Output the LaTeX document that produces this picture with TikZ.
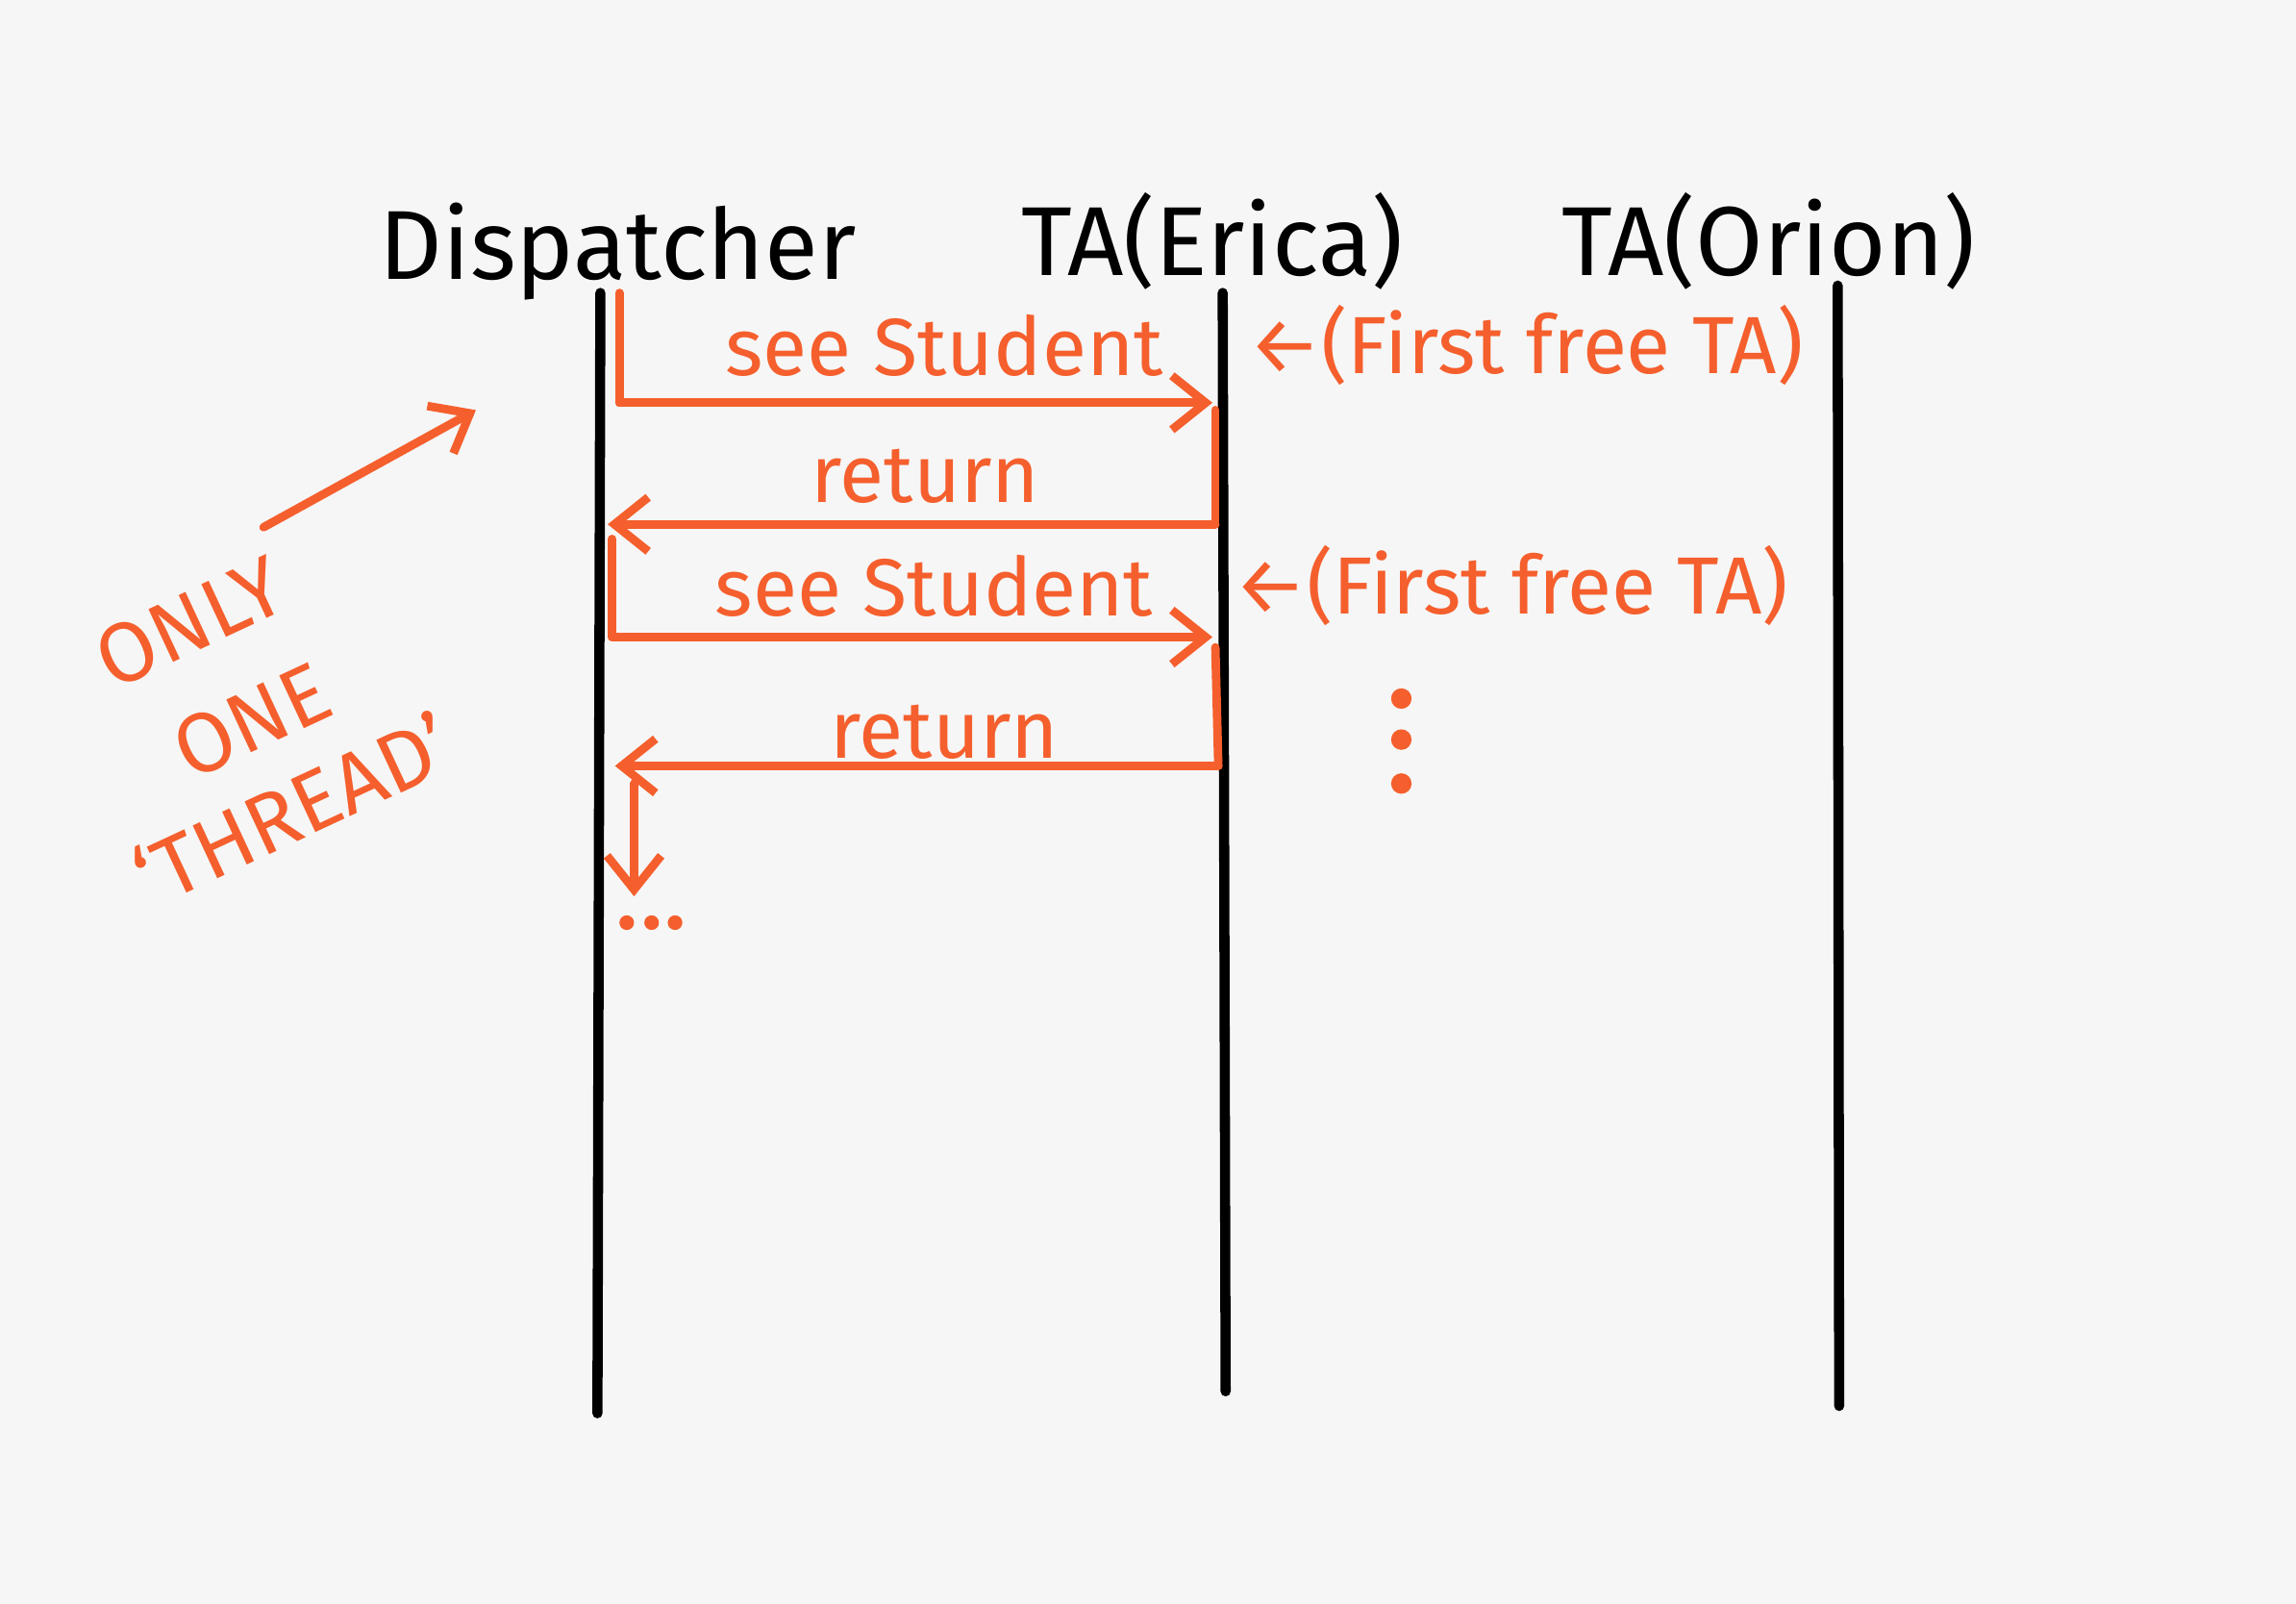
\documentclass[tikz,border=0pt]{standalone}
\usepackage{fontspec}
\setmainfont{Fira Sans}
\usepackage{xcolor}
\usetikzlibrary{arrows.meta}
\definecolor{pen}{RGB}{245,95,45}
\definecolor{paper}{RGB}{246,246,246}
\tikzset{
  life/.style={line width=3pt, black, line cap=round},
  msg/.style={line width=2.5pt, pen, line cap=round, -{Straight Barb[length=10pt,width=16pt]}},
  bar/.style={line width=2.5pt, pen, line cap=round},
  head/.style={font=\fontsize{29}{34}\selectfont},
  note/.style={pen, font=\fontsize{24}{28}\selectfont},
  side/.style={pen, rotate=25, font=\fontsize{25}{30}\selectfont}
}
\begin{document}
\begin{tikzpicture}[x=0.01523cm, y=-0.01523cm]
    \fill[paper] (0,0) rectangle (1568,1095);
    % Lifelines and headers
    \node[head] (disp) at (422,172) {Dispatcher};
    \node[head] (erica) at (828,165) {TA(Erica)};
    \node[head] (orion) at (1208,165) {TA(Orion)};
    \coordinate (d0) at (410,200); \coordinate (d1) at (408,965);
    \coordinate (e0) at (835,200); \coordinate (e1) at (837,950);
    \coordinate (o0) at (1255,195); \coordinate (o1) at (1256,960);
    \draw[life] (d0) -- (d1);
    \draw[life] (e0) -- (e1);
    \draw[life] (o0) -- (o1);

    % First call
    \coordinate (a0) at (423,200); \coordinate (a1) at (423,275);
    \coordinate (a2) at (828,275);
    \draw[bar] (a0) -- (a1);
    \draw[msg] (a1) -- (a2);
    \node[note] (see1) at (645,236) {see Student};
    \node[note] (free1) at (1042,236) {←(First free TA)};
    % First return
    \coordinate (b0) at (830,280); \coordinate (b1) at (830,358);
    \coordinate (b2) at (415,358);
    \draw[bar] (b0) -- (b1);
    \draw[msg] (b1) -- (b2);
    \node[note] (ret1) at (632,325) {return};

    % Second call
    \coordinate (c0) at (418,368); \coordinate (c1) at (418,435);
    \coordinate (c2) at (828,435);
    \draw[bar] (c0) -- (c1);
    \draw[msg] (c1) -- (c2);
    \node[note] (see2) at (638,400) {see Student};
    \node[note] (free2) at (1032,400) {←(First free TA)};
    % Second return
    \coordinate (f0) at (830,442); \coordinate (f1) at (832,523);
    \coordinate (f2) at (420,523);
    \draw[bar] (f0) -- (f1);
    \draw[msg] (f1) -- (f2);
    \node[note] (ret2) at (645,500) {return};

    % Continuation
    \coordinate (g0) at (433,535); \coordinate (g1) at (433,612);
    \draw[msg] (g0) -- (g1);
    \foreach \x in {428,445,461} {
        \fill[pen] (\x,630) circle (5);
    }
    \foreach \y in {477,505,535} {
        \fill[pen] (957,\y) circle (7);
    }

    % Side note
    \node[side] (only) at (130,425) {ONLY};
    \node[side] (one) at (172,492) {ONE};
    \node[side] (thread) at (200,552) {`THREAD'};
    \coordinate (n0) at (180,360); \coordinate (n1) at (325,280);
    \draw[msg] (n0) -- (n1);
\end{tikzpicture}
\end{document}
